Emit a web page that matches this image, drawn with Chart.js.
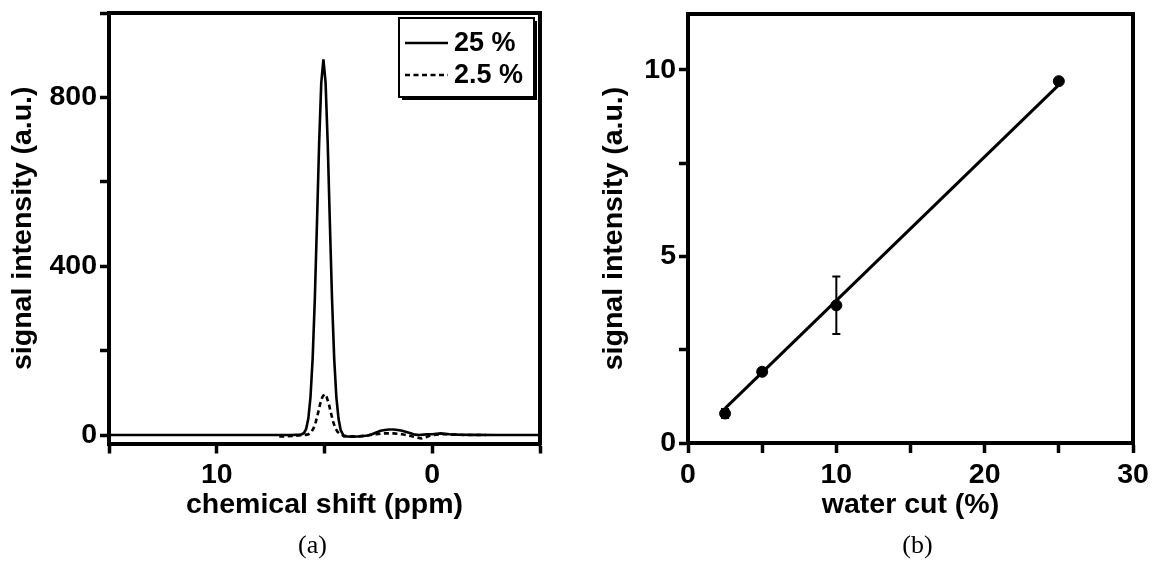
<!DOCTYPE html>
<html><head><meta charset="utf-8">
<script src="https://cdn.jsdelivr.net/npm/chart.js@4.4.1/dist/chart.umd.min.js"></script>
<style>
html,body{margin:0;padding:0;background:#fff;}
#wrap{position:relative;width:1153px;height:562px;overflow:hidden;background:#fff;}
canvas{position:absolute;top:0;}
#ca{left:0;} #cb{left:576px;}
</style></head><body>
<div id="wrap"><canvas id="ca" width="576" height="562"></canvas><canvas id="cb" width="577" height="562"></canvas></div>
<script>
// ---------- Panel (a): NMR spectra ----------
const shift25 = [15, 13, 11, 9, 7.5, 6.5, 6.15, 6.05, 5.95, 5.85, 5.75, 5.65, 5.55, 5.45, 5.35, 5.25, 5.15, 5.05, 4.95, 4.85, 4.75, 4.65, 4.55, 4.45, 4.35, 4.25, 4.1, 3.7, 3.3, 3.0, 2.8, 2.6, 2.4, 2.2, 2.0, 1.8, 1.6, 1.4, 1.2, 1.0, 0.8, 0.6, 0.4, 0.2, 0, -0.2, -0.4, -0.6, -0.8, -1.2, -2, -3, -4, -5];
const signal25 = [0, 0, 0, 0, 0, 0, 1, 2, 5, 15, 39, 90, 181, 321, 501, 690, 835, 890, 835, 690, 501, 321, 181, 90, 39, 12, -3, -4, -3, -1, 2, 6, 10, 12, 13, 13, 12, 10, 7, 4, 1, 0, 1, 2, 2, 3, 4, 3, 2, 1, 0.5, 0, 0, 0];
const shift2p5 = [7.1, 6.8, 6.5, 6.2, 6.0, 5.8, 5.7, 5.6, 5.5, 5.4, 5.3, 5.2, 5.1, 5.0, 4.9, 4.8, 4.7, 4.6, 4.5, 4.4, 4.3, 4.1, 3.8, 3.4, 3.0, 2.6, 2.2, 1.8, 1.4, 1.0, 0.7, 0.5, 0.3, 0.1, -0.2, -0.5, -0.8, -1.2, -1.6, -2.0, -2.5];
const signal2p5 = [-3, -3, -2, -1, 0, 1, 3, 8, 17, 32, 52, 74, 90, 97, 90, 74, 52, 32, 17, 8, 3, -2, -3, -3, -1, 2, 4, 4, 2, -2, -6, -8, -5, -1, 1, 2, 1, 1, 0, 0, 0];
const spectrumLabels = ['25 %', '2.5 %'];
const shiftTicks = [15, 10, 5, 0, -5];
const shiftTickLabels = [10, 0];
const intensityTicks = [0, 200, 400, 600, 800, 1000];
const intensityTickLabels = [0, 400, 800];

// ---------- Panel (b): calibration ----------
const waterCut = [2.5, 5, 10, 25];
const signalMean = [0.79, 1.91, 3.69, 9.70];
const signalErr = [0.12, 0.08, 0.77, 0.06];
const fitX = [2.5, 25];
const fitY = [0.93, 9.6];
const cutTicks = [0, 5, 10, 15, 20, 25, 30];
const cutTickLabels = [0, 10, 20, 30];
const meanTicks = [0, 2.5, 5, 7.5, 10];
const meanTickLabels = [0, 5, 10];
const panelLabels = ['(a)', '(b)'];

const SANS = "'Liberation Sans', Arial, sans-serif";
const SERIF = "'Liberation Serif', 'Times New Roman', serif";
const boldFont = {family: SANS, size: 28.5, weight: 'bold', lineHeight: 1.2};

const framePlugin = {
  id: 'frame',
  afterDatasetsDraw(chart) {
    const {ctx, chartArea: a} = chart;
    ctx.save();
    ctx.strokeStyle = '#000';
    ctx.lineWidth = 4;
    ctx.lineJoin = 'miter';
    ctx.beginPath();
    ctx.moveTo(a.left - 2, a.top);
    ctx.lineTo(a.right, a.top);
    ctx.lineTo(a.right, a.bottom + 2);
    ctx.stroke();
    ctx.restore();
  }
};

const captionPlugin = {
  id: 'caption',
  afterDraw(chart, args, o) {
    const {ctx, chartArea: a} = chart;
    ctx.save();
    ctx.fillStyle = '#000';
    ctx.font = '26px ' + SERIF;
    ctx.textAlign = 'center';
    ctx.textBaseline = 'middle';
    ctx.fillText(o.text, (a.left + a.right) / 2 + o.dx, o.y);
    ctx.restore();
  }
};

const legendBoxPlugin = {
  id: 'legendBox',
  afterDraw(chart, args, o) {
    if (!o.show) return;
    const ctx = chart.ctx;
    ctx.save();
    ctx.fillStyle = '#000';
    ctx.fillRect(o.x + 3, o.y + 3, o.w, o.h);
    ctx.fillStyle = '#fff';
    ctx.fillRect(o.x, o.y, o.w, o.h);
    ctx.lineWidth = 2;
    ctx.strokeStyle = '#000';
    ctx.strokeRect(o.x, o.y, o.w, o.h);
    chart.data.datasets.forEach((ds, i) => {
      const y = o.y + o.row0 + i * o.rowH;
      ctx.setLineDash(ds.borderDash || []);
      ctx.lineWidth = ds.borderWidth;
      ctx.beginPath();
      ctx.moveTo(o.x + 6, y);
      ctx.lineTo(o.x + 49, y);
      ctx.stroke();
      ctx.setLineDash([]);
      ctx.fillStyle = '#000';
      ctx.font = 'bold 27px ' + SANS;
      ctx.textAlign = 'left';
      ctx.textBaseline = 'middle';
      ctx.fillText(ds.label, o.x + 55, y + 1);
    });
    ctx.restore();
  }
};

const errorBarPlugin = {
  id: 'errorBars',
  beforeDatasetsDraw(chart, args, o) {
    if (!o.show) return;
    const {ctx, scales: {x, y}} = chart;
    ctx.save();
    ctx.strokeStyle = '#000';
    ctx.lineWidth = 2;
    waterCut.forEach((v, i) => {
      const px = x.getPixelForValue(v);
      const y1 = y.getPixelForValue(signalMean[i] - signalErr[i]);
      const y2 = y.getPixelForValue(signalMean[i] + signalErr[i]);
      ctx.beginPath();
      ctx.moveTo(px, y1); ctx.lineTo(px, y2);
      ctx.moveTo(px - 4, y1); ctx.lineTo(px + 4, y1);
      ctx.moveTo(px - 4, y2); ctx.lineTo(px + 4, y2);
      ctx.stroke();
    });
    ctx.restore();
  }
};

function axis(opts) {
  return {
    type: 'linear',
    min: opts.min, max: opts.max, reverse: !!opts.reverse,
    afterBuildTicks: s => { s.ticks = opts.ticks.map(v => ({value: v})); },
    ticks: {
      callback: v => opts.labels.includes(v) ? String(v) : '',
      font: boldFont, color: '#000', padding: opts.tickPad, maxRotation: 0, autoSkip: false
    },
    grid: {drawOnChartArea: false, drawTicks: true, tickLength: opts.tickLength, tickWidth: 3.5, tickColor: '#000'},
    border: {display: true, width: 4, color: '#000'},
    title: {display: true, text: opts.title, font: boldFont, color: '#000', padding: opts.titlePad},
    afterFit: s => {
      opts.afterFit(s);
      s.paddingTop = 0; s.paddingBottom = 0;
      if (s.isHorizontal()) { s.paddingLeft = 0; s.paddingRight = 0; }
    }
  };
}

Chart.defaults.font.family = SANS;

new Chart(document.getElementById('ca'), {
  type: 'line',
  data: {
    datasets: [
      {label: spectrumLabels[0], data: shift25.map((x, i) => ({x, y: signal25[i]})), borderColor: '#000', borderWidth: 2.6, pointRadius: 0, tension: 0, fill: false},
      {label: spectrumLabels[1], data: shift2p5.map((x, i) => ({x, y: signal2p5[i]})), borderColor: '#000', borderWidth: 2.6, borderDash: [5, 3.5], pointRadius: 0, tension: 0, fill: false}
    ]
  },
  options: {
    responsive: false, animation: false, devicePixelRatio: 1,
    layout: {padding: {left: 0, right: 36, top: 13, bottom: 0}},
    plugins: {
      legend: {display: false}, tooltip: {enabled: false},
      legendBox: {show: true, x: 399, y: 18, w: 135, h: 79, row0: 25, rowH: 32},
      caption: {text: panelLabels[0], dx: -12, y: 546}
    },
    scales: {
      x: axis({min: -5, max: 15, reverse: true, ticks: shiftTicks, labels: shiftTickLabels, tickLength: 10, tickPad: 5,
        title: 'chemical shift (ppm)', titlePad: {top: 0, bottom: 40}, afterFit: s => { s.height = 118.5; }}),
      y: axis({min: -20, max: 1000, ticks: intensityTicks, labels: intensityTickLabels, tickLength: 9, tickPad: 3,
        title: 'signal intensity (a.u.)', titlePad: {top: 6, bottom: 0}, afterFit: s => { s.width = 109; }})
    }
  },
  plugins: [framePlugin, legendBoxPlugin, captionPlugin]
});

new Chart(document.getElementById('cb'), {
  type: 'scatter',
  data: {
    datasets: [
      {label: 'data', data: waterCut.map((x, i) => ({x, y: signalMean[i]})), backgroundColor: '#000', borderColor: '#000', pointRadius: 5.5, pointHoverRadius: 5.5, showLine: false},
      {label: 'fit', data: fitX.map((x, i) => ({x, y: fitY[i]})), borderColor: '#000', borderWidth: 3, pointRadius: 0, showLine: true, tension: 0}
    ]
  },
  options: {
    responsive: false, animation: false, devicePixelRatio: 1,
    layout: {padding: {left: 0, right: 20, top: 14, bottom: 0}},
    plugins: {
      legend: {display: false}, tooltip: {enabled: false},
      errorBars: {show: true},
      caption: {text: panelLabels[1], dx: 7, y: 546}
    },
    scales: {
      x: axis({min: 0, max: 30, ticks: cutTicks, labels: cutTickLabels, tickLength: 10, tickPad: 5,
        title: 'water cut (%)', titlePad: {top: 0, bottom: 40}, afterFit: s => { s.height = 119; }}),
      y: axis({min: 0, max: 11.5, ticks: meanTicks, labels: meanTickLabels, tickLength: 9, tickPad: 3,
        title: 'signal intensity (a.u.)', titlePad: {top: 21, bottom: 0}, afterFit: s => { s.width = 112; }})
    }
  },
  plugins: [framePlugin, errorBarPlugin, captionPlugin]
});
</script>
</body></html>
